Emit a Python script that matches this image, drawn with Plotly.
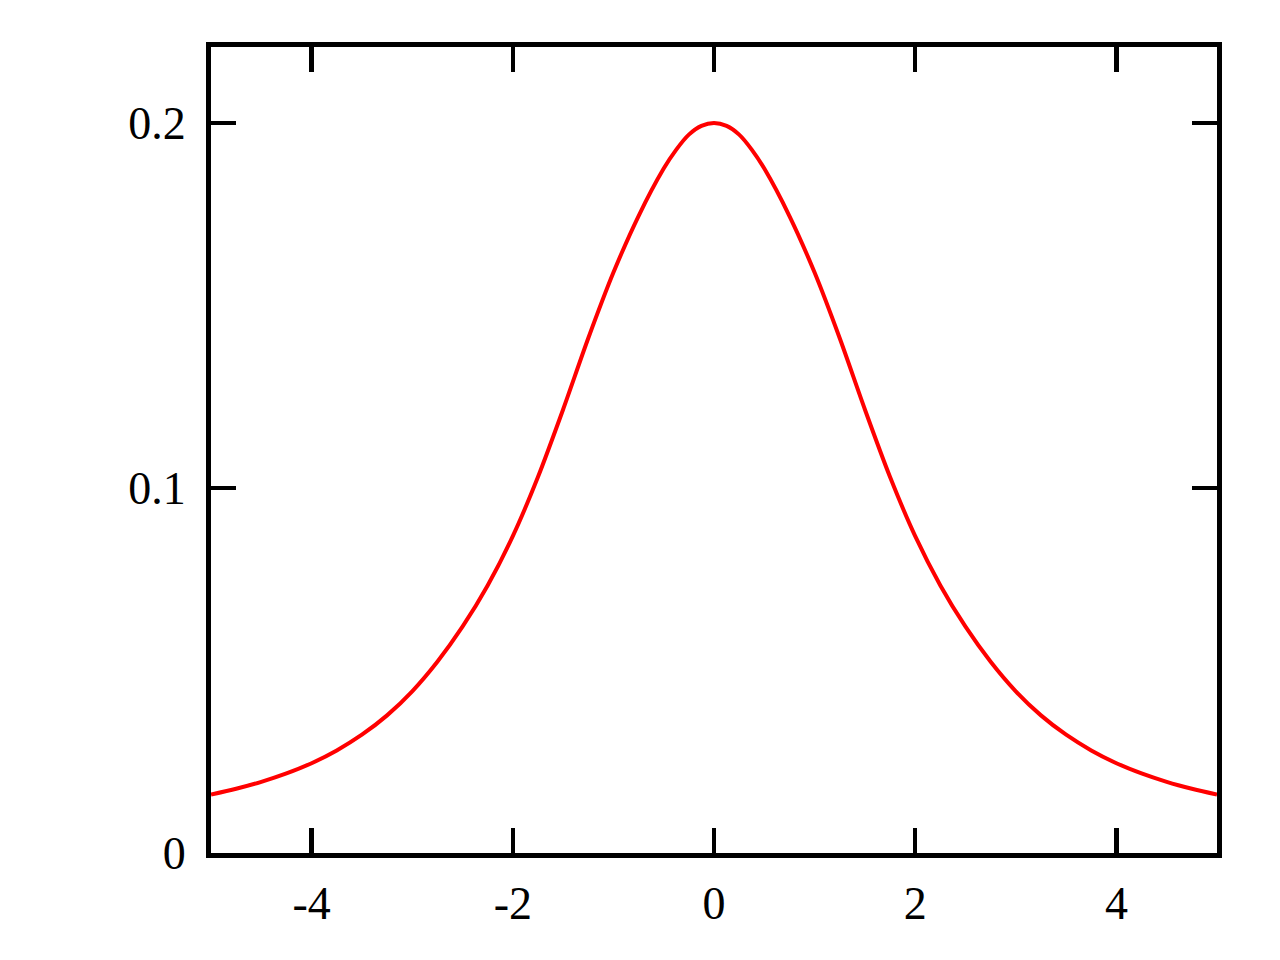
import plotly.graph_objects as go

# Values (curve is symmetric about x = 0)
x_values = [-5.0, -4.75, -4.5, -4.25, -4.0, -3.75, -3.5, -3.25, -3.0, -2.75, -2.5,
            -2.25, -2.0, -1.75, -1.5, -1.25, -1.0, -0.75, -0.5, -0.375, -0.25, -0.125, 0.0,
            0.125, 0.25, 0.375, 0.5, 0.75, 1.0, 1.25, 1.5, 1.75, 2.0, 2.25, 2.5,
            2.75, 3.0, 3.25, 3.5, 3.75, 4.0, 4.25, 4.5, 4.75, 5.0]
y_values = [0.0160, 0.0176, 0.0195, 0.0218, 0.0246, 0.0281, 0.0324, 0.0377, 0.0443, 0.0524, 0.0620,
            0.0733, 0.0868, 0.1030, 0.1215, 0.1410, 0.1590, 0.1745, 0.1875, 0.1927, 0.1968, 0.1992, 0.2000,
            0.1992, 0.1968, 0.1927, 0.1875, 0.1745, 0.1590, 0.1410, 0.1215, 0.1030, 0.0868, 0.0733, 0.0620,
            0.0524, 0.0443, 0.0377, 0.0324, 0.0281, 0.0246, 0.0218, 0.0195, 0.0176, 0.0160]

x_ticks = [-4, -2, 0, 2, 4]
x_tick_labels = ["-4", "-2", "0", "2", "4"]
y_ticks = [0, 0.1, 0.2]
y_tick_labels = ["0", "0.1", "0.2"]

fig = go.Figure()
fig.add_trace(go.Scatter(
    x=x_values, y=y_values, mode="lines",
    line=dict(color="#ff0000", width=4, shape="spline", smoothing=0.8),
    showlegend=False, hoverinfo="skip",
))

axis_common = dict(
    showline=True, linecolor="black", linewidth=5, mirror="ticks",
    ticks="inside", ticklen=25, tickwidth=4.5, tickcolor="black",
    showgrid=False, zeroline=False,
    tickfont=dict(family="Liberation Serif", size=46, color="black"),
)

fig.update_xaxes(range=[-5, 5], tickvals=x_ticks, ticktext=x_tick_labels,
                 ticklabelstandoff=6, **axis_common)
fig.update_yaxes(range=[0, 0.2208], tickvals=y_ticks, ticktext=y_tick_labels,
                 ticklabelstandoff=11, **axis_common)

fig.update_layout(
    width=1280, height=960,
    margin=dict(l=211, r=63, t=47, b=107, pad=0),
    paper_bgcolor="white", plot_bgcolor="white",
)

fig.write_html("out.html",
               config={"displayModeBar": False, "staticPlot": True},
               post_script="document.body.style.margin='0px';document.body.style.overflow='hidden';")
